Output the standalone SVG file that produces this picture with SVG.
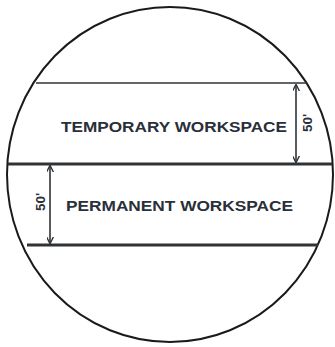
<svg xmlns="http://www.w3.org/2000/svg" width="335" height="347" viewBox="0 0 335 347">
<style>
.lbl{font-family:"Liberation Sans",Arial,sans-serif;font-weight:bold;fill:#2a2f3a;}
.dim{font-family:"Liberation Sans",Arial,sans-serif;font-weight:bold;fill:#2a2f3a;font-size:13.5px;}
.edge{stroke:#2f3336;fill:none;}
</style>
<defs>
<marker id="ah" viewBox="0 0 10 10" refX="9" refY="5" markerWidth="7" markerHeight="7" orient="auto-start-reverse" markerUnits="userSpaceOnUse">
<path d="M0,0 L10,5 L0,10" fill="none" stroke="#2f3336" stroke-width="2"/>
</marker>
</defs>
<rect width="335" height="347" fill="#ffffff"/>
<g id="boundary">
<ellipse cx="170" cy="174.5" rx="163" ry="167.5" fill="none" stroke="#1a1a1a" stroke-width="2"/>
</g>
<g id="lines">
<line class="edge" x1="36" y1="83" x2="307" y2="83" stroke-width="1.6"/>
<line class="edge" x1="8" y1="164" x2="332" y2="164" stroke-width="3" stroke="#555a5e"/>
<line class="edge" x1="27" y1="245" x2="318" y2="245" stroke-width="3" stroke="#555a5e"/>
</g>
<g id="temporary">
<text class="lbl" x="61" y="131.5" font-size="15.5" textLength="226" lengthAdjust="spacingAndGlyphs">TEMPORARY WORKSPACE</text>
</g>
<g id="permanent">
<text class="lbl" x="66" y="210.5" font-size="15.5" textLength="227" lengthAdjust="spacingAndGlyphs">PERMANENT WORKSPACE</text>
</g>
<g id="connectors">
<line class="edge" x1="296" y1="85" x2="296" y2="162" stroke-width="1.6" marker-start="url(#ah)" marker-end="url(#ah)"/>
<line class="edge" x1="50" y1="166" x2="50" y2="243" stroke-width="1.6" marker-start="url(#ah)" marker-end="url(#ah)"/>
<text class="dim" transform="translate(312,123) rotate(-90)" text-anchor="middle">50'</text>
<text class="dim" transform="translate(45,202) rotate(-90)" text-anchor="middle">50'</text>
</g>
</svg>
